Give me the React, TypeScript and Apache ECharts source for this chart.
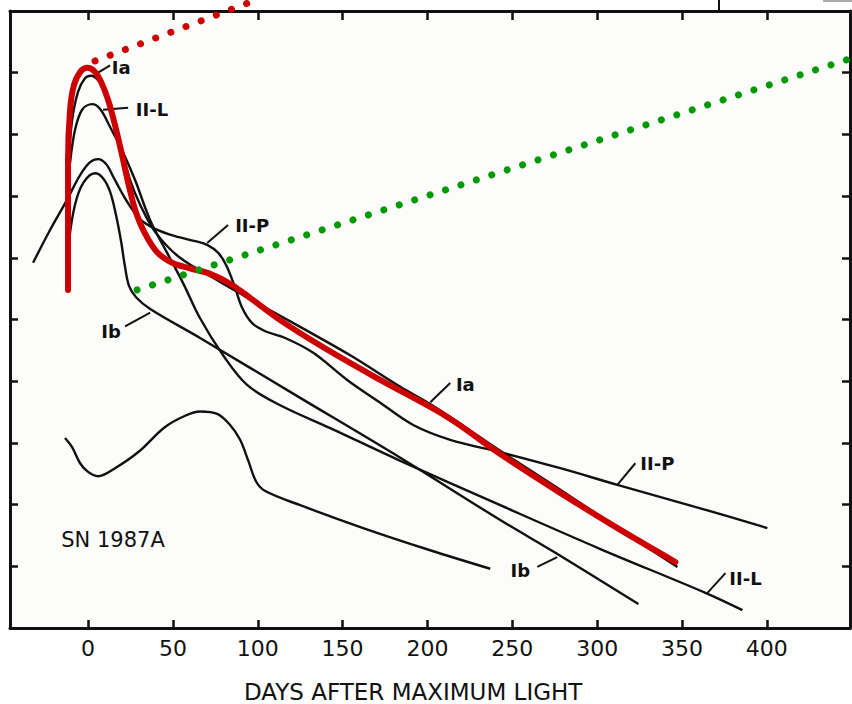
import React, { useEffect, useRef } from "react";
import * as echarts from "echarts";

// Axis ranges & ticks (days after maximum light; relative brightness in magnitudes, brighter upward)
const X_MIN = -46;
const X_MAX = 449;
const Y_MIN = 0;
const Y_MAX = 10;
const DAY_TICKS = [0, 50, 100, 150, 200, 250, 300, 350, 400];
const MAG_TICKS = [1, 2, 3, 4, 5, 6, 7, 8, 9];

// Overlaid red light curve
const RED_CURVE: [number, number][] = [
  [-11.8, 5.48], [-11.8, 6.45], [-11.8, 7.58], [-10.6, 8.4], [-8.3, 8.8], [-4.7, 9.01],
  [-0.6, 9.08], [3.5, 9.03], [7.7, 8.85], [11.8, 8.56], [15.9, 8.15], [20.0, 7.67],
  [24.2, 7.15], [28.3, 6.73], [33.6, 6.39], [40.7, 6.09], [49.5, 5.92], [60.1, 5.83],
  [71.9, 5.74], [83.7, 5.58], [95.5, 5.35], [113.2, 4.99], [138.6, 4.55], [172.2, 4.02],
  [211.7, 3.42], [242.9, 2.82], [278.3, 2.19], [313.7, 1.59], [346.1, 1.07],
];

// Black template curves
const TYPE_IA: [number, number][] = [
  [-11.8, 7.46], [-9.4, 8.23], [-5.9, 8.69], [-1.8, 8.91], [1.8, 8.95], [5.9, 8.88],
  [10.0, 8.69], [14.2, 8.31], [18.9, 7.83], [24.8, 7.26], [30.7, 6.86], [39.5, 6.42],
  [54.2, 6.0], [77.8, 5.61], [101.4, 5.24], [125.0, 4.88], [154.5, 4.42], [184.0, 3.91],
  [202.8, 3.61], [244.7, 2.84], [278.3, 2.24], [313.7, 1.59], [347.3, 0.99],
];
const TYPE_IIL: [number, number][] = [
  [-10.6, 7.54], [-7.7, 8.07], [-3.5, 8.4], [2.4, 8.49], [7.1, 8.41], [13.0, 8.12],
  [20.6, 7.71], [27.7, 7.26], [36.6, 6.61], [46.6, 6.08], [56.0, 5.59], [66.0, 5.02],
  [79.6, 4.42], [93.7, 3.94], [113.2, 3.61], [142.7, 3.24], [184.0, 2.71], [242.9, 1.99],
  [301.9, 1.28], [363.8, 0.57], [385.6, 0.29],
];
const TYPE_IIP: [number, number][] = [
  [-32.4, 5.92], [-22.4, 6.45], [-12.4, 6.94], [-4.7, 7.34], [1.2, 7.55], [5.9, 7.6],
  [10.6, 7.52], [15.3, 7.29], [20.0, 7.05], [25.4, 6.81], [31.2, 6.61], [39.5, 6.47],
  [51.3, 6.35], [63.1, 6.27], [70.2, 6.21], [76.7, 6.08], [81.4, 5.88], [86.1, 5.56],
  [90.8, 5.19], [96.7, 4.94], [104.4, 4.81], [116.2, 4.7], [132.7, 4.46], [152.7, 4.02],
  [172.2, 3.65], [191.6, 3.29], [213.4, 3.05], [242.9, 2.85], [278.3, 2.59], [311.9, 2.32],
  [360.8, 1.94], [400.3, 1.62],
];
const TYPE_IB: [number, number][] = [
  [-11.2, 6.29], [-7.7, 6.86], [-2.9, 7.21], [4.1, 7.37], [8.8, 7.29], [13.0, 7.07],
  [16.5, 6.69], [19.5, 6.26], [21.8, 5.85], [24.2, 5.54], [28.3, 5.36], [36.6, 5.17],
  [66.0, 4.7], [125.0, 3.73], [184.0, 2.76], [242.9, 1.75], [275.4, 1.22], [324.3, 0.39],
];
const SN1987A: [number, number][] = [
  [-13.6, 3.08], [-9.4, 2.93], [-4.7, 2.67], [0, 2.53], [5.9, 2.46], [15.9, 2.59],
  [30.0, 2.86], [45.0, 3.25], [57.2, 3.44], [66.0, 3.51], [76.1, 3.47],
  [83.7, 3.29], [89.6, 3.05], [94.3, 2.72], [99.1, 2.37], [104.4, 2.22], [125.0, 1.99],
  [162.1, 1.62], [201.6, 1.26], [237.0, 0.96],
];

// Dotted trend lines
const RED_TREND: [number, number][] = [[4.1, 9.19], [101, 10.2]];
const GREEN_TREND: [number, number][] = [[28.9, 5.48], [450.5, 9.24]];

// Curve labels and their leader lines
const LABEL_NAMES = ["Ia", "II-L", "II-P", "Ib", "Ia", "II-P", "II-L", "Ib"];
const LABEL_POS: [number, number][] = [
  [19.5, 9.08], [37.7, 8.4], [96.7, 6.52], [13.6, 4.81],
  [222.3, 3.94], [335.5, 2.67], [387.4, 0.81], [254.7, 0.94],
];
const LEADERS: [number, number][][] = [
  [[13.0, 9.12], [5.9, 9.0]],
  [[23.6, 8.43], [8.8, 8.4]],
  [[82.5, 6.53], [70.2, 6.24]],
  [[21.8, 4.89], [36.6, 5.11]],
  [[213.4, 3.97], [201.7, 3.66]],
  [[322.5, 2.67], [311.9, 2.32]],
  [[375.6, 0.89], [365.0, 0.57]],
  [[264.7, 0.99], [276.5, 1.15]],
];
const TITLE_NAME = "SN 1987A";
const TITLE_POS: [number, number] = [14.7, 1.43];
const X_TITLE = "DAYS AFTER MAXIMUM LIGHT";

const INK = "#111";

export default function App() {
  const ref = useRef<HTMLDivElement>(null);
  useEffect(() => {
    if (!ref.current) return;
    const chart = echarts.init(ref.current, undefined, { renderer: "svg" });

    const blackCurve = (name: string, data: [number, number][]) => ({
      name,
      type: "line",
      data,
      smooth: 0.35,
      symbol: "none",
      z: 2,
      lineStyle: { color: INK, width: 2.4 },
      silent: true,
    });

    const axisLineStyle = { color: INK, width: 3 };
    const tickStyle = { color: INK, width: 2.5 };

    const option: any = {
      animation: false,
      backgroundColor: "#ffffff",
      grid: {
        left: 10,
        right: 2,
        top: 11,
        bottom: 76,
        show: true,
        backgroundColor: "#fcfcfa",
        borderWidth: 0,
      },
      xAxis: [
        {
          type: "value",
          position: "bottom",
          min: X_MIN,
          max: X_MAX,
          axisLine: { show: true, onZero: false, lineStyle: axisLineStyle },
          axisTick: { show: true, inside: true, length: 8, customValues: DAY_TICKS, lineStyle: tickStyle },
          axisLabel: {
            show: true,
            customValues: DAY_TICKS,
            margin: 9,
            fontSize: 22,
            fontFamily: "DejaVu Sans",
            color: INK,
          },
          splitLine: { show: false },
        },
        {
          type: "value",
          position: "top",
          min: X_MIN,
          max: X_MAX,
          axisLine: { show: true, onZero: false, lineStyle: axisLineStyle },
          axisTick: { show: true, inside: true, length: 9, customValues: DAY_TICKS, lineStyle: tickStyle },
          axisLabel: { show: false },
          splitLine: { show: false },
        },
      ],
      yAxis: [
        {
          type: "value",
          position: "left",
          min: Y_MIN,
          max: Y_MAX,
          axisLine: { show: true, onZero: false, lineStyle: axisLineStyle },
          axisTick: { show: true, inside: true, length: 8, customValues: MAG_TICKS, lineStyle: tickStyle },
          axisLabel: { show: false },
          splitLine: { show: false },
        },
        {
          type: "value",
          position: "right",
          min: Y_MIN,
          max: Y_MAX,
          axisLine: { show: true, onZero: false, lineStyle: axisLineStyle },
          axisTick: { show: true, inside: true, length: 8, customValues: MAG_TICKS, lineStyle: tickStyle },
          axisLabel: { show: false },
          splitLine: { show: false },
        },
      ],
      series: [
        blackCurve("Ia", TYPE_IA),
        blackCurve("II-L", TYPE_IIL),
        blackCurve("II-P", TYPE_IIP),
        blackCurve("Ib", TYPE_IB),
        blackCurve("SN 1987A", SN1987A),
        ...LEADERS.map((seg, i) => ({
          name: "leader" + i,
          type: "line",
          data: seg,
          symbol: "none",
          z: 2,
          lineStyle: { color: INK, width: 2 },
          silent: true,
        })),
        {
          name: "fit",
          type: "line",
          data: RED_CURVE,
          smooth: 0.35,
          symbol: "none",
          z: 3,
          lineStyle: { color: "#cc0000", width: 6, cap: "round", join: "round" },
          silent: true,
        },
        {
          name: "peakTrend",
          type: "line",
          data: RED_TREND,
          symbol: "none",
          clip: false,
          z: 4,
          lineStyle: { color: "#cc0000", width: 7, type: [0.01, 16.2], cap: "round" },
          silent: true,
        },
        {
          name: "tailTrend",
          type: "line",
          data: GREEN_TREND,
          symbol: "none",
          clip: false,
          z: 4,
          lineStyle: { color: "#009a00", width: 7, type: [0.01, 16.2], cap: "round" },
          silent: true,
        },
        {
          name: "labels",
          type: "scatter",
          data: LABEL_NAMES.map((n, i) => ({ name: n, value: LABEL_POS[i] })),
          symbolSize: 1,
          itemStyle: { color: "rgba(0,0,0,0)", opacity: 1 },
          z: 5,
          silent: true,
          label: {
            show: true,
            position: "inside",
            formatter: "{b}",
            fontSize: 18,
            fontWeight: "bold",
            fontFamily: "DejaVu Sans",
            color: INK,
            opacity: 1,
          },
        },
        {
          name: "title",
          type: "scatter",
          data: [{ name: TITLE_NAME, value: TITLE_POS }],
          symbolSize: 1,
          itemStyle: { color: "rgba(0,0,0,0)", opacity: 1 },
          z: 5,
          silent: true,
          label: {
            show: true,
            position: "inside",
            formatter: "{b}",
            fontSize: 21,
            fontFamily: "DejaVu Sans",
            color: INK,
            opacity: 1,
          },
        },
      ],
      graphic: [
        {
          type: "text",
          left: 415 - 171,
          top: 680,
          style: {
            text: X_TITLE,
            fontSize: 23,
            fontFamily: "DejaVu Sans",
            fill: INK,
          },
        },
        {
          type: "line",
          shape: { x1: 719, y1: 0, x2: 719, y2: 10 },
          style: { stroke: INK, lineWidth: 2 },
        },
        {
          type: "line",
          shape: { x1: 823, y1: 1, x2: 852, y2: 1 },
          style: { stroke: "#aaa", lineWidth: 2 },
        },
      ],
    };
    chart.setOption(option);
    return () => chart.dispose();
  }, []);
  return (
    <div
      ref={ref}
      style={{ position: "absolute", left: 0, top: 0, width: 852, height: 704 }}
    />
  );
}
